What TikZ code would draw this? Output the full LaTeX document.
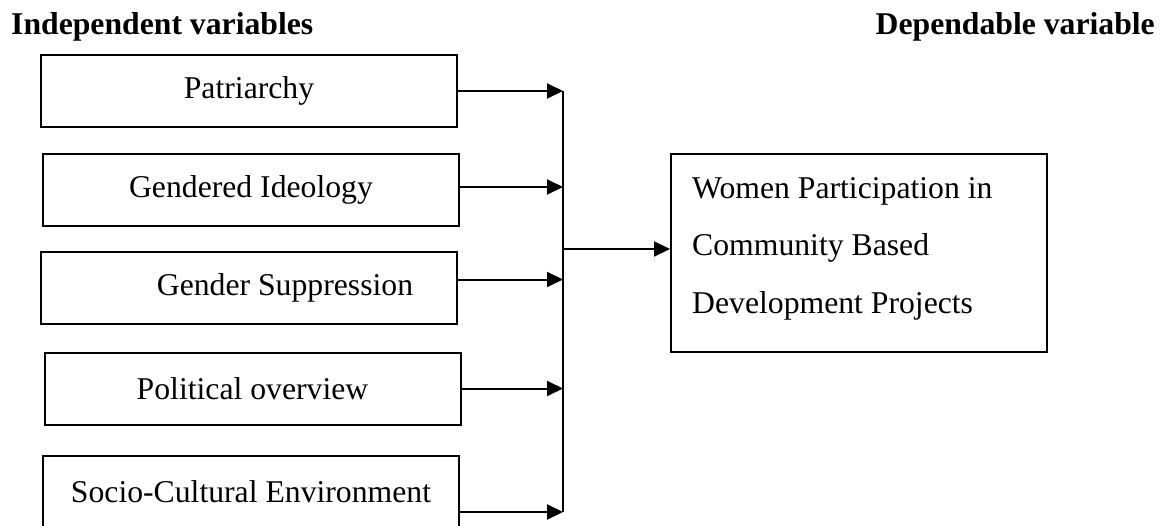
\documentclass[tikz,border=0pt]{standalone}
\usepackage{fontspec}
\setmainfont{Liberation Serif}
\usetikzlibrary{arrows.meta,positioning}
\begin{document}
\begin{tikzpicture}[x=1pt,y=-1pt,
        font=\fontsize{31.7}{57.5}\selectfont,
        varbox/.style={draw,line width=2pt,minimum width=416pt,minimum height=72pt,inner sep=0pt},
        depbox/.style={draw,line width=2pt,minimum width=376pt,minimum height=198pt,inner sep=0pt},
        titulo/.style={font=\fontsize{31.7}{38}\selectfont\bfseries,inner sep=0pt},
        flecha/.style={line width=2pt,-{Triangle[length=16pt,width=15pt]}}]
        \useasboundingbox (0,0) rectangle (1162,525);

        %titulos
        \node[titulo,anchor=base west] (indep) at (11,34) {Independent variables};
        \node[titulo,anchor=base east] (dep) at (1155,34) {Dependable variable};

        %cajas
        \node[varbox] (patr) at (249,91) {Patriarchy};
        \node[varbox] (gideo) at (251,190) {Gendered Ideology};
        \node[varbox] (gsupp) at (249,287.5) {\hspace*{72pt}Gender Suppression};
        \node[varbox] (polit) at (252.5,388.5) {Political overview};
        \node[varbox] (socio) at (251,492) {Socio-Cultural Environment};

        \node[depbox] (women) at (859,253) {};
        \node[anchor=north west,align=left,inner sep=0pt] (womentxt) at (692,177)
            {Women Participation in\\Community Based\\Development Projects};

        %flechas
        \coordinate (bus) at (563,249);
        \draw[flecha] (patr.east) -- (patr.east -| bus);
        \draw[flecha] ([yshift=3pt]gideo.east) -- ([yshift=3pt]gideo.east -| bus);
        \draw[flecha] ([yshift=8pt]gsupp.east) -- ([yshift=8pt]gsupp.east -| bus);
        \draw[flecha] (polit.east) -- (polit.east -| bus);
        \draw[flecha] ([yshift=-20pt]socio.east) -- ([yshift=-20pt]socio.east -| bus);
        \draw[line width=2pt] (patr.east -| bus) -- ([yshift=-20pt]socio.east -| bus);
        \draw[flecha] (bus) -- (bus -| women.west);
\end{tikzpicture}
\end{document}
